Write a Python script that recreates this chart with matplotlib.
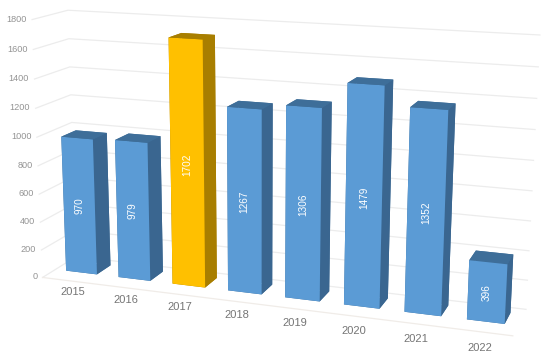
import matplotlib
matplotlib.use("Agg")
import matplotlib.pyplot as plt
from mpl_toolkits.mplot3d import proj3d

plt.rcParams["font.family"] = ["Liberation Sans", "DejaVu Sans"]

years = ["2015", "2016", "2017", "2018", "2019", "2020", "2021", "2022"]
values = [970, 979, 1702, 1267, 1306, 1479, 1352, 396]
yticks = [0, 200, 400, 600, 800, 1000, 1200, 1400, 1600, 1800]

# camera and layout, calibrated against the picture
ELEV, AZIM, ROLL = 13.9915, -70.7143, -0.1988
FOCAL = 0.4494
BOX = (1.8170, 0.2787, 1)
SCALE, TX, TY = 3007.0, 276.9, 163.2
BAR_W, D0, D1 = 0.5906, 0.3746, 0.8001
FIG_W, FIG_H = 550, 358

BLUE = ["#3E6E99", "#3E6E99", "#5B9BD5", "#3E6E99", "#3E6E99", "#3A6690"]
GOLD = ["#A87E00", "#A87E00", "#FFC000", "#A87E00", "#A87E00", "#A87E00"]
GRID = "#ECECEC"

fig = plt.figure(figsize=(FIG_W / 100, FIG_H / 100), dpi=100)
ax = fig.add_axes([0, 0, 1, 1], projection="3d")
ax.computed_zorder = False
ax.set_xlim(0, 8)
ax.set_ylim(0, 1)
ax.set_zlim(0, 1800)
ax.view_init(ELEV, AZIM, ROLL)
ax.set_proj_type("persp", focal_length=FOCAL)
ax.set_box_aspect(BOX)
ax.set_axis_off()

# place the square axes so that 2d view coords land on the right pixels
vx0, vx1 = ax.viewLim.intervalx
vy0, vy1 = ax.viewLim.intervaly
w_px = SCALE * (vx1 - vx0)
h_px = SCALE * (vy1 - vy0)
left = TX + SCALE * vx0
top = TY - SCALE * vy1
ax.set_position([left / FIG_W, (FIG_H - top - h_px) / FIG_H, w_px / FIG_W, h_px / FIG_H])
proj = ax.get_proj()


def label(x, y, z, s, **kw):
    # flat text at the projected spot, Text3D would drop the rotation
    px, py, _ = proj3d.proj_transform(x, y, z, proj)
    ax.text2D(px, py, s, transform=ax.transData, ha=kw.pop("ha", "center"), va="center", clip_on=False, **kw)


for z in yticks:
    ax.plot([0, 0, 8], [0, 1, 1], [z, z, z], color=GRID, lw=0.9, zorder=1)
    label(-0.1, 0, z, str(z), ha="right", fontsize=6.6, color="#949494", zorder=5)
ax.plot([0, 8], [0, 0], [0, 0], color="#F0ECE8", lw=0.9, zorder=1)

for i, (year, val) in enumerate(zip(years, values)):
    colors = GOLD if year == "2017" else BLUE
    ax.bar3d(i + 0.5 - BAR_W / 2, D0, 0, BAR_W, D1 - D0, val, color=colors, shade=False, zorder=3 + i * 0.01)
    label(i + 0.5, D0, val / 2, str(val), rotation=90, fontsize=7.2, color="white", zorder=6)
    label(i + 0.84 - 0.031 * i, -0.41 - 0.017 * i, 0, year, fontsize=8, color="#757575", zorder=5)

fig.savefig("out.png", dpi=100)
